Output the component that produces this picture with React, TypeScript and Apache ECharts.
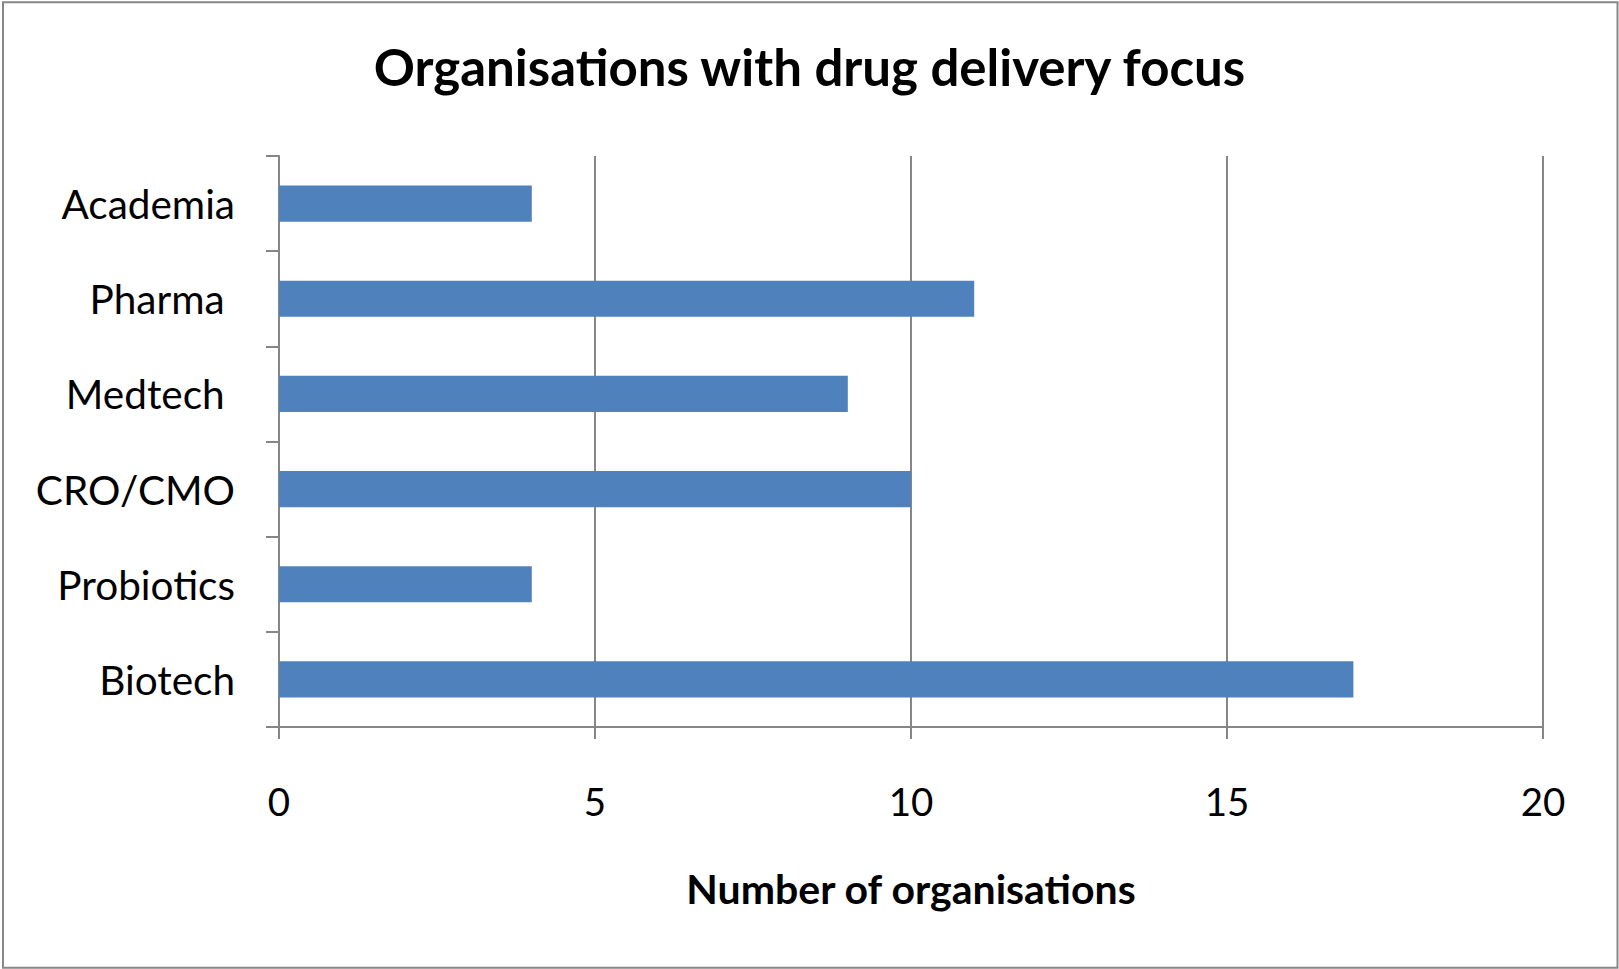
import React, { useEffect, useRef } from "react";
import * as echarts from "echarts";

const categories = ["Academia", "Pharma ", "Medtech ", "CRO/CMO", "Probiotics", "Biotech"];
const counts = [4, 11, 9, 10, 4, 17];
const xTicks = [0, 5, 10, 15, 20];
const chartTitle = "Organisations with drug delivery focus";
const xAxisTitle = "Number of organisations";

const GRAY = "#868686";
const FONT = "Lato, 'Open Sans', sans-serif";

export default function App() {
  const ref = useRef<HTMLDivElement>(null);
  useEffect(() => {
    if (!ref.current) return;
    const chart = echarts.init(ref.current, undefined, { renderer: "svg" });
    chart.setOption({
      animation: false,
      backgroundColor: "#ffffff",
      textStyle: { fontFamily: FONT },
      title: {
        text: chartTitle,
        left: "center",
        top: 36,
        textStyle: { fontFamily: FONT, fontWeight: "bold", fontSize: 51, color: "#000" },
      },
      graphic: [
        {
          type: "rect",
          shape: { x: 3, y: 2.3, width: 1614.5, height: 965.4 },
          style: { fill: "none", stroke: "#878787", lineWidth: 2 },
          silent: true,
        },
      ],
      grid: { left: 279, right: 76, top: 156, bottom: 242, containLabel: false },
      xAxis: {
        type: "value",
        min: xTicks[0],
        max: xTicks[xTicks.length - 1],
        interval: xTicks[1] - xTicks[0],
        name: xAxisTitle,
        nameLocation: "middle",
        nameGap: 141,
        nameTextStyle: { fontFamily: FONT, fontWeight: "bold", fontSize: 41, color: "#000" },
        axisLine: { show: true, lineStyle: { color: GRAY, width: 2 } },
        axisTick: { show: true, length: 12, lineStyle: { color: GRAY, width: 2 } },
        axisLabel: { fontFamily: FONT, fontSize: 38.5, color: "#000", margin: 54 },
        splitLine: { show: true, lineStyle: { color: GRAY, width: 2 } },
      },
      yAxis: {
        type: "category",
        inverse: true,
        data: categories,
        axisLine: { show: true, lineStyle: { color: GRAY, width: 2 } },
        axisTick: { show: true, length: 13, lineStyle: { color: GRAY, width: 2 } },
        axisLabel: { fontFamily: FONT, fontSize: 40.5, color: "#000", margin: 44 },
        splitLine: { show: false },
      },
      series: [
        {
          type: "bar",
          data: counts,
          barWidth: "38%",
          itemStyle: { color: "#4F81BD" },
        },
      ],
    });
    return () => chart.dispose();
  }, []);
  return (
    <div
      ref={ref}
      style={{ position: "fixed", left: 0, top: 0, width: 1619, height: 969, background: "#fff" }}
    />
  );
}
